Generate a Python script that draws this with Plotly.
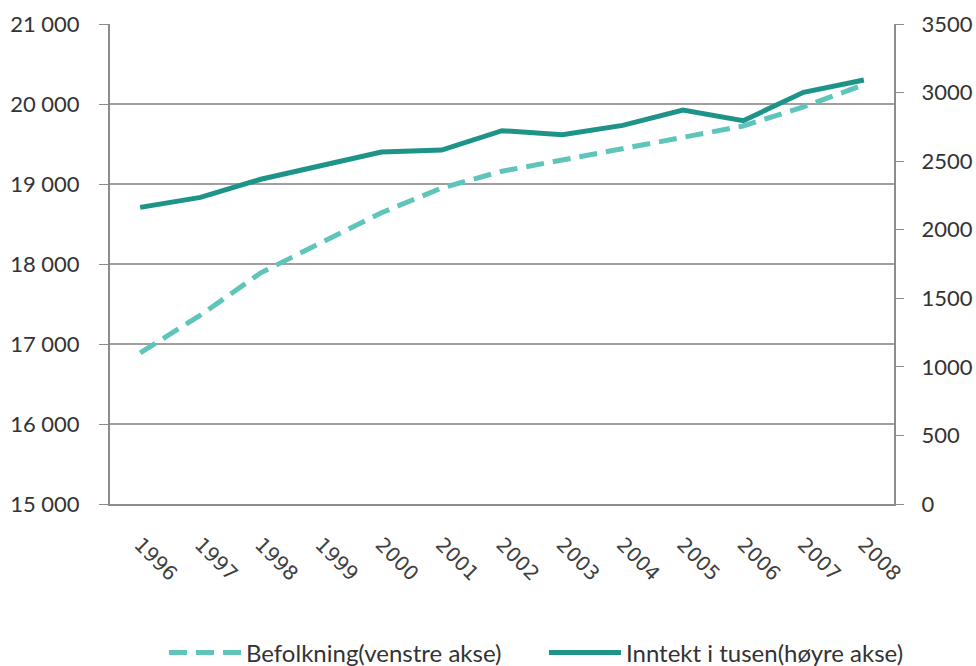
import plotly.graph_objects as go

years = ["1996", "1997", "1998", "1999", "2000", "2001", "2002",
         "2003", "2004", "2005", "2006", "2007", "2008"]
befolkning = [16890, 17360, 17890, 18260, 18640, 18950, 19160,
              19300, 19445, 19580, 19725, 19965, 20240]
inntekt = [2163, 2236, 2368, 2472, 2567, 2581, 2722,
           2693, 2761, 2873, 2795, 3002, 3092]

left_ticks = [15000, 16000, 17000, 18000, 19000, 20000, 21000]
right_ticks = [0, 500, 1000, 1500, 2000, 2500, 3000, 3500]

fig = go.Figure()
fig.add_trace(go.Scatter(
    x=years, y=befolkning, name="Befolkning(venstre akse)",
    mode="lines", line=dict(color="#5fc5ba", width=5, dash="18px,9px"),
    yaxis="y"))
fig.add_trace(go.Scatter(
    x=years, y=inntekt, name="Inntekt i tusen(høyre akse)",
    mode="lines", line=dict(color="#1e9488", width=5),
    yaxis="y2"))

axis_font = dict(family="Lato, Open Sans, sans-serif", size=22, color="#333333")
x_font = dict(family="DejaVu Sans, sans-serif", size=20, color="#404040")
fig.update_layout(
    width=976, height=666,
    margin=dict(l=110, r=82, t=24, b=162, autoexpand=False),
    paper_bgcolor="white", plot_bgcolor="white",
    separators=", ",
    font=axis_font,
    xaxis=dict(type="category", tickangle=45, showgrid=False,
               range=[-0.5, 12.5], automargin=False,
               showline=True, linecolor="#8c8c8c", linewidth=2,
               ticks="", tickfont=x_font, ticklabelstandoff=19),
    yaxis=dict(range=[15000, 21000], tickvals=left_ticks, tickformat=",d",
               automargin=False,
               showgrid=True, gridcolor="#a0a0a0", gridwidth=1.5,
               showline=True, linecolor="#8c8c8c", linewidth=2,
               ticks="outside", ticklen=9, tickcolor="#8c8c8c",
               ticklabelstandoff=15,
               tickfont=axis_font, zeroline=False),
    yaxis2=dict(range=[0, 3500], tickvals=right_ticks, tickformat="d",
                overlaying="y", side="right", showgrid=False, automargin=False,
                showline=True, linecolor="#8c8c8c", linewidth=2,
                ticks="outside", ticklen=8, tickcolor="#8c8c8c",
                ticklabelstandoff=13,
                tickfont=axis_font, zeroline=False),
    legend=dict(orientation="h", xref="container", yref="container",
                x=0.168, xanchor="left", y=0.0195, yanchor="middle",
                font=dict(family="Lato, Open Sans, sans-serif",
                          size=24, color="#333333"),
                itemwidth=72,
                entrywidth=293, entrywidthmode="pixels"),
    showlegend=True,
)

fig.write_html("out.html",
               config={"displayModeBar": False},
               post_script="document.body.style.margin='0';"
                           "document.body.style.overflow='hidden';")
